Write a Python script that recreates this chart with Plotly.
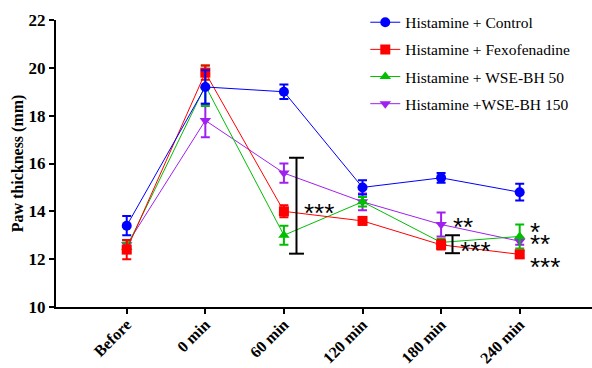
import plotly.graph_objects as go

categories = ["Before", "0 min", "60 min", "120 min", "180 min", "240 min"]
control = [13.4, 19.2, 19.0, 15.0, 15.4, 14.8]
control_err = [0.4, 0.7, 0.3, 0.3, 0.2, 0.35]
fexo = [12.4, 19.8, 14.0, 13.6, 12.6, 12.2]
fexo_err = [0.4, 0.3, 0.25, 0.15, 0.2, 0.15]
wse50 = [12.5, 19.25, 13.0, 14.4, 12.7, 12.95]
wse50_err = [0.2, 0.85, 0.4, 0.2, 0.15, 0.5]
wse150 = [12.6, 17.8, 15.6, 14.4, 13.45, 12.75]
wse150_err = [0.2, 0.7, 0.4, 0.35, 0.5, 0.15]

series = [
    ("Histamine +WSE-BH 150", wse150, wse150_err, "rgb(160,32,240)", "triangle-down", 4),
    ("Histamine + WSE-BH 50", wse50, wse50_err, "rgb(0,190,0)", "triangle-up", 3),
    ("Histamine + Fexofenadine", fexo, fexo_err, "rgb(255,0,0)", "square", 2),
    ("Histamine + Control", control, control_err, "rgb(0,0,255)", "circle", 1),
]

x = list(range(len(categories)))
fig = go.Figure()
for name, ys, errs, col, sym, rank in series:
    fig.add_trace(go.Scatter(
        x=x, y=ys, name=name, mode="lines+markers", legendrank=rank, legendgroup=name,
        line=dict(color=col, width=1),
        marker=dict(color=col, symbol=sym, size=10),
        error_y=dict(type="data", array=errs, color=col, thickness=2, width=4.5),
    ))

# significance brackets (x offset from category index, y range of bracket)
brackets = [(2.16, 12.23, 16.24), (4.145, 12.25, 13.0)]
cap = 0.095
for bx, y0, y1 in brackets:
    fig.add_shape(type="line", x0=bx, x1=bx, y0=y0, y1=y1, line=dict(color="black", width=2))
    for yy in (y0, y1):
        fig.add_shape(type="line", x0=bx - cap, x1=bx + cap, y0=yy, y1=yy, line=dict(color="black", width=2))

def big(s):
    return '<span style="font-size:26px">%s</span>' % s

stars = [
    (2.23, 14.05, big("***"), 22),
    (4.12, 13.45, big("**") + "<br><br>" + big("\u00a0***"), 9.2),
    (5.11, 13.25, big("*") + "<br>" + big("**") + "<br><br>" + big("***"), 9),
]
for sx, sy, txt, fs in stars:
    fig.add_annotation(x=sx, y=sy, text=txt, showarrow=False, xanchor="left", yanchor="top",
                       align="left", yshift=14,
                       font=dict(family="Liberation Sans", size=fs, color="black"))

fig.update_layout(
    width=592, height=368,
    margin=dict(l=56, r=0, t=20, b=61),
    paper_bgcolor="white", plot_bgcolor="white",
    font=dict(family="Liberation Serif", color="black"),
    showlegend=True,
    legend=dict(x=0.577, y=1.05, xanchor="left", yanchor="top", bgcolor="rgba(0,0,0,0)",
                font=dict(family="Liberation Serif", size=15.5, color="black"),
                itemwidth=30, tracegroupgap=4),
    xaxis=dict(range=[-0.9, 5.92], tickvals=x, ticktext=["<b>%s</b>" % c for c in categories],
               tickangle=-45, showline=True, linecolor="black", linewidth=2,
               ticks="outside", ticklen=5, tickwidth=2, tickcolor="black",
               ticklabelstandoff=-5,
               showgrid=False, zeroline=False, automargin=False,
               tickfont=dict(family="Liberation Serif", size=16, color="black")),
    yaxis=dict(range=[10, 22], tickvals=[10, 12, 14, 16, 18, 20, 22],
               ticktext=["<b>%d</b>" % v for v in [10, 12, 14, 16, 18, 20, 22]],
               showline=True, linecolor="black", linewidth=2,
               ticks="outside", ticklen=5, tickwidth=2, tickcolor="black",
               showgrid=False, zeroline=False, automargin=False,
               title=dict(text="<b>Paw thickness (mm)</b>", font=dict(family="Liberation Serif", size=16, color="black"), standoff=1),
               tickfont=dict(family="Liberation Serif", size=17, color="black")),
)

fig.write_html("out.html")
